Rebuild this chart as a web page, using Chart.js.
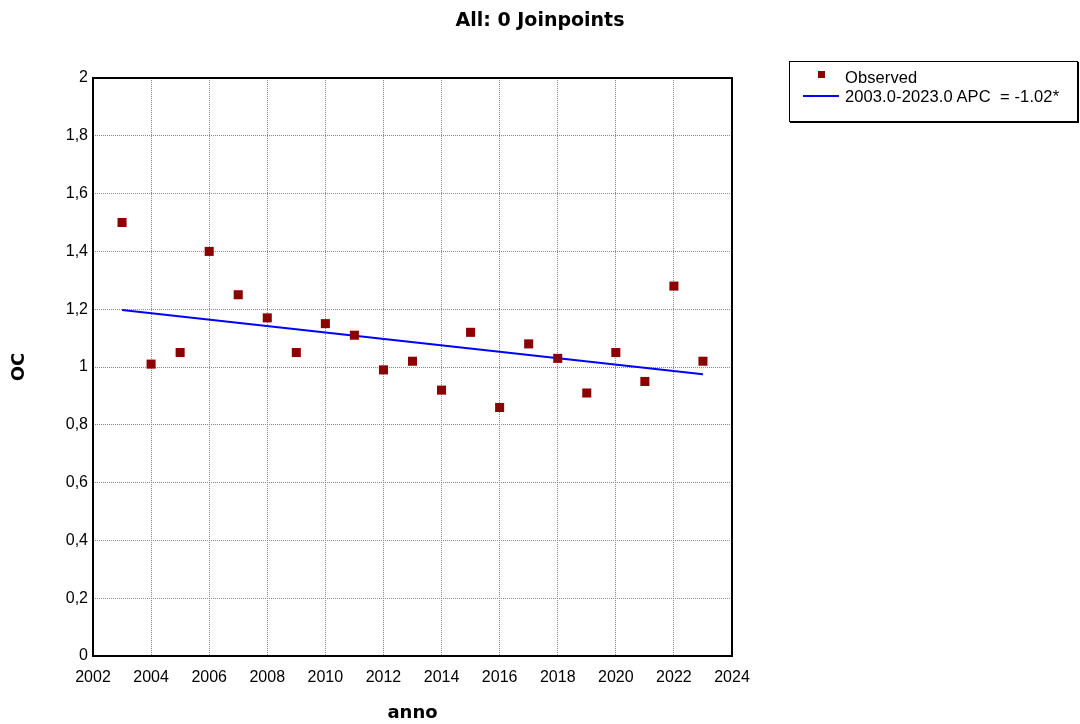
<!DOCTYPE html>
<html lang="it">
<head>
  <meta charset="UTF-8" />
  <title>All: 0 Joinpoints</title>
  <script src="https://cdn.jsdelivr.net/npm/chart.js"></script>
  <style>
    html, body { margin: 0; padding: 0; background: #fff; }
    #wrap { position: relative; width: 1080px; height: 724px; }
    #title {
      position: absolute; left: 0; top: 8px; width: 1080px; text-align: center;
      font: bold 19px 'DejaVu Sans', sans-serif; color: #000;
    }
    #legend {
      position: absolute; left: 789px; top: 61px; width: 287px; height: 59px;
      border: 1px solid #000; box-shadow: 1px 1px 0 #000;
      font: 16.5px 'Liberation Sans', Arial, sans-serif; color: #000;
    }
    #legend .row { position: absolute; left: 55px; white-space: pre; letter-spacing: 0.1px; }
    #legend .mark { position: absolute; left: 28px; top: 9px; width: 7px; height: 7px; background: #8b0000; }
    #legend .line { position: absolute; left: 13px; top: 33px; width: 36px; height: 2px; background: #0000ff; }
  </style>
</head>
<body>
  <div id="wrap">
    <canvas id="chart" width="1080" height="724"></canvas>
    <div id="title">All: 0 Joinpoints</div>
    <div id="legend">
      <div class="mark"></div>
      <div class="row" style="top:6px">Observed</div>
      <div class="line"></div>
      <div class="row" style="top:25px">2003.0-2023.0 APC  = -1.02*</div>
    </div>
  </div>

  <script>
    const years = [2003, 2004, 2005, 2006, 2007, 2008, 2009, 2010, 2011, 2012, 2013,
                   2014, 2015, 2016, 2017, 2018, 2019, 2020, 2021, 2022, 2023];
    const observed = [1.50, 1.01, 1.05, 1.40, 1.25, 1.17, 1.05, 1.15, 1.11, 0.99, 1.02,
                      0.92, 1.12, 0.86, 1.08, 1.03, 0.91, 1.05, 0.95, 1.28, 1.02];
    const trendYears = [2003, 2023];
    const trendValues = [1.197, 0.975];

    const frame = {
      id: 'frame',
      afterDraw(chart) {
        const a = chart.chartArea, ctx = chart.ctx;
        ctx.save();
        ctx.strokeStyle = '#000';
        ctx.lineWidth = 2;
        ctx.strokeRect(a.left, a.top, a.right - a.left, a.bottom - a.top);
        ctx.restore();
      }
    };

    new Chart(document.getElementById('chart'), {
      type: 'scatter',
      data: {
        datasets: [{
          label: 'Observed',
          data: years.map((y, i) => ({ x: y, y: observed[i] })),
          pointStyle: 'rect',
          pointRadius: 6.4,
          pointHoverRadius: 6.4,
          backgroundColor: '#8b0000',
          borderWidth: 0,
          order: 1
        }, {
          label: '2003.0-2023.0 APC  = -1.02*',
          type: 'line',
          data: trendYears.map((y, i) => ({ x: y, y: trendValues[i] })),
          borderColor: '#0000ff',
          borderWidth: 2,
          pointRadius: 0,
          fill: false,
          order: 2
        }]
      },
      options: {
        responsive: false,
        animation: false,
        layout: { padding: { top: 78, right: 348, bottom: 0, left: 0 } },
        plugins: { legend: { display: false }, tooltip: { enabled: false } },
        scales: {
          x: {
            type: 'linear', min: 2002, max: 2024,
            afterFit(s) { s.height = 68; },
            ticks: { stepSize: 2, padding: 12, color: '#000',
                     font: { family: 'Liberation Sans', size: 16 },
                     callback: v => String(v) },
            grid: { color: '#888', lineWidth: 1, drawTicks: false },
            border: { display: false, dash: [1, 1] },
            title: { display: true, text: 'anno', color: '#000',
                     font: { family: 'DejaVu Sans', size: 18, weight: 'bold' },
                     padding: { top: 0, bottom: 0 } }
          },
          y: {
            min: 0, max: 2,
            afterFit(s) { s.width = 93; },
            ticks: { stepSize: 0.2, padding: 5, color: '#000',
                     font: { family: 'Liberation Sans', size: 16 },
                     callback: v => String(Math.round(v * 10) / 10).replace('.', ',') },
            grid: { color: '#888', lineWidth: 1, drawTicks: false },
            border: { display: false, dash: [1, 1] },
            title: { display: true, text: 'OC', color: '#000',
                     font: { family: 'DejaVu Sans', size: 18, weight: 'bold' },
                     padding: { top: 9, bottom: 0 } }
          }
        }
      },
      plugins: [frame]
    });
  </script>
</body>
</html>
